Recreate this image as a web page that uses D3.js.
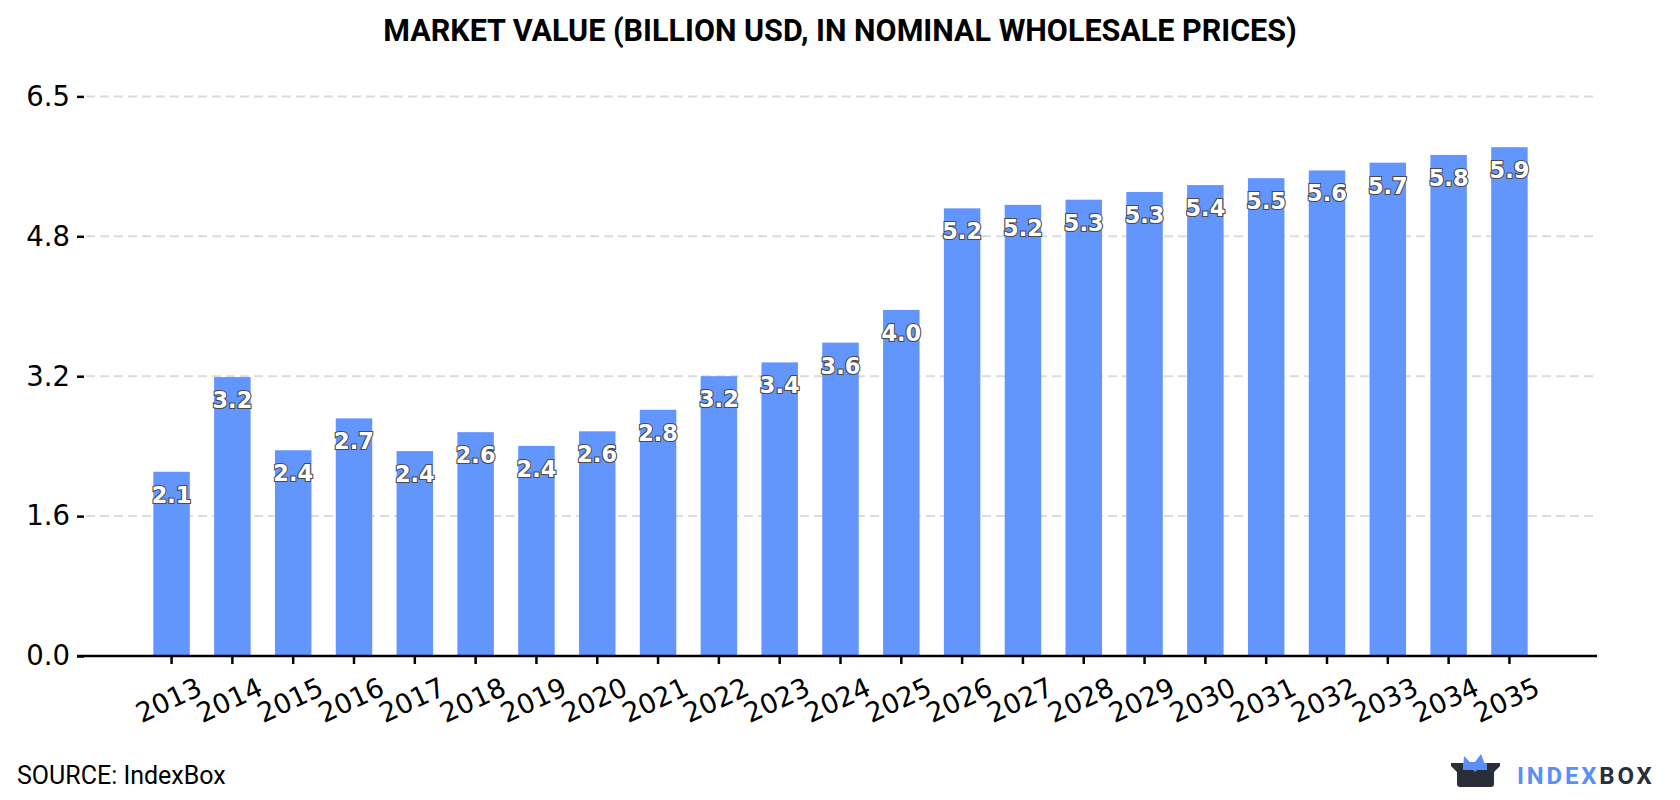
<!DOCTYPE html>
<html>
<head>
<meta charset="utf-8">
<script src="https://cdn.jsdelivr.net/npm/d3@7"></script>
<style>
  html, body { margin: 0; padding: 0; background: #ffffff; }
  svg { display: block; }
</style>
</head>
<body>
<svg id="chart" width="1680" height="800"></svg>
<script>
// ---- data ----
const years = ["2013","2014","2015","2016","2017","2018","2019","2020","2021","2022","2023","2024",
               "2025","2026","2027","2028","2029","2030","2031","2032","2033","2034","2035"];
const values = [2.14, 3.24, 2.39, 2.76, 2.38, 2.60, 2.44, 2.61, 2.86, 3.25, 3.41, 3.64,
                4.02, 5.20, 5.24, 5.30, 5.39, 5.47, 5.55, 5.64, 5.73, 5.82, 5.91];
const valueLabels = ["2.1","3.2","2.4","2.7","2.4","2.6","2.4","2.6","2.8","3.2","3.4","3.6",
                     "4.0","5.2","5.2","5.3","5.3","5.4","5.5","5.6","5.7","5.8","5.9"];
const yTickValues = [0, 1.625, 3.25, 4.875, 6.5];
const yTickLabels = ["0.0", "1.6", "3.2", "4.8", "6.5"];
const title = "MARKET VALUE (BILLION USD, IN NOMINAL WHOLESALE PRICES)";
const sourceText = "SOURCE: IndexBox";

// ---- layout ----
const svg = d3.select("#chart");
const plotLeft = 84, plotRight = 1597, plotBottom = 656, plotTop = 96.4;
const barColor = "#6396fd";

const x = d3.scaleBand().domain(years).range([plotLeft, plotRight])
  .paddingInner(0.4).paddingOuter(1.14);
const y = d3.scaleLinear().domain([0, 6.5]).range([plotBottom, plotTop]);

// title
svg.append("text")
  .attr("x", 840).attr("y", 41)
  .attr("text-anchor", "middle")
  .attr("font-family", "Roboto, sans-serif")
  .attr("font-weight", 700)
  .attr("font-size", 30.5)
  .attr("fill", "#000")
  .text(title);

// grid lines
svg.append("g").selectAll("line")
  .data(yTickValues.filter(d => d > 0))
  .join("line")
  .attr("x1", 86).attr("x2", plotRight)
  .attr("y1", d => y(d)).attr("y2", d => y(d))
  .attr("stroke", "#dcdcdc")
  .attr("stroke-width", 2)
  .attr("stroke-dasharray", "9,5");

// y axis (ticks + labels, no domain line)
const yAxis = d3.axisLeft(y).tickValues(yTickValues)
  .tickFormat((d, i) => yTickLabels[i]).tickSize(7).tickPadding(7);
const gy = svg.append("g").attr("transform", `translate(${plotLeft},0)`).call(yAxis);
gy.select(".domain").remove();
gy.selectAll(".tick line").attr("stroke", "#000").attr("stroke-width", 2.5);
gy.selectAll(".tick text")
  .attr("font-family", "'DejaVu Sans', sans-serif")
  .attr("font-size", 27.5).attr("fill", "#000");

// bars
svg.append("g").selectAll("rect")
  .data(values)
  .join("rect")
  .attr("x", (d, i) => x(years[i]))
  .attr("width", x.bandwidth())
  .attr("y", d => y(d))
  .attr("height", d => y(0) - y(d))
  .attr("fill", barColor);

// x axis
const xAxis = d3.axisBottom(x).tickSize(8).tickPadding(4).tickSizeOuter(0);
const gx = svg.append("g").attr("transform", `translate(0,${plotBottom})`).call(xAxis);
gx.select(".domain").remove();
gx.append("line").attr("x1", 77).attr("x2", plotRight).attr("y1", 0).attr("y2", 0)
  .attr("stroke", "#000").attr("stroke-width", 2.5);
gx.selectAll(".tick line").attr("stroke", "#000").attr("stroke-width", 2.5);
gx.selectAll(".tick text")
  .attr("font-family", "'DejaVu Sans', sans-serif")
  .attr("font-size", 27).attr("fill", "#000")
  .attr("text-anchor", "middle")
  .attr("dy", null)
  .attr("dominant-baseline", "central")
  .attr("transform", "translate(-3,44) rotate(-25)")
  .attr("y", 0);

// value labels
svg.append("g").selectAll("text")
  .data(values)
  .join("text")
  .attr("x", (d, i) => x(years[i]) + x.bandwidth() / 2)
  .attr("y", d => y(d) + 31)
  .attr("text-anchor", "middle")
  .attr("font-family", "'DejaVu Sans', sans-serif")
  .attr("font-weight", 700)
  .attr("font-size", 22.5)
  .attr("fill", "#ffffff")
  .attr("stroke", "#4a4a4a")
  .attr("stroke-width", 2.2)
  .attr("paint-order", "stroke")
  .text((d, i) => valueLabels[i]);

// source
svg.append("text")
  .attr("x", 17).attr("y", 784)
  .attr("font-family", "Roboto, sans-serif")
  .attr("font-size", 25)
  .attr("fill", "#000")
  .text(sourceText);

// logo
const logo = svg.append("g").attr("transform", "translate(1451,753)");
logo.append("path")
  .attr("d", "M12,17 L13,3 L19,9 L24,9 L30,1 L36,17 Z")
  .attr("fill", "#5b8ff5");
logo.append("path")
  .attr("d", "M0,10 L49,10 L49,13 L43,19 L43,31 Q43,34 40,34 L9,34 Q6,34 6,31 L6,19 L0,13 Z")
  .attr("fill", "#2b2d38");
logo.append("path")
  .attr("d", "M12,10 L36,10 L36,17 L26,17 L24,19 L22,17 L12,17 Z")
  .attr("fill", "#5b8ff5");
const logoText = svg.append("text")
  .attr("x", 1517).attr("y", 784)
  .attr("font-family", "Roboto, sans-serif")
  .attr("font-weight", 700)
  .attr("font-size", 24)
  .attr("letter-spacing", 2.8);
logoText.append("tspan").attr("fill", "#5b8ff5").text("INDEX");
logoText.append("tspan").attr("fill", "#2b2d38").text("BOX");
</script>
</body>
</html>
